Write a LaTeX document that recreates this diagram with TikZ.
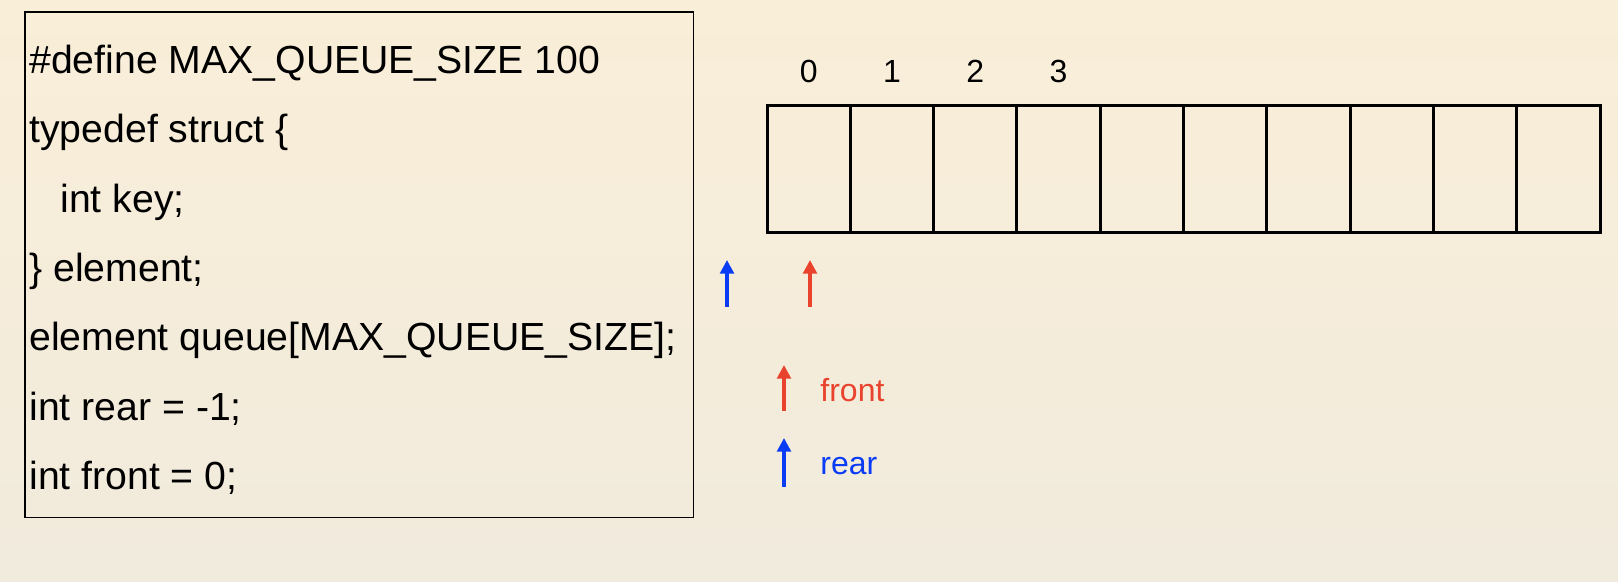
\documentclass[tikz,border=0pt]{standalone}
\usepackage{fontspec}
\setmainfont{Liberation Sans}
\usetikzlibrary{arrows.meta,positioning}
\definecolor{frontred}{RGB}{233,67,45}
\definecolor{rearblue}{RGB}{10,60,245}
\definecolor{bgtop}{RGB}{249,238,216}
\definecolor{bgbot}{RGB}{241,235,221}
\tikzset{
  code/.style={anchor=base west,inner sep=0pt,font=\fontsize{19.6}{21}\selectfont},
  cell/.style={draw,line width=1.5pt,minimum width=41.65pt,minimum height=63.5pt,inner sep=0pt,outer sep=0pt},
  idx/.style={inner sep=0pt,font=\fontsize{16}{18}\selectfont},
  legend/.style={anchor=base west,inner sep=0pt,font=\fontsize{16}{18}\selectfont},
  ptr/.style={line width=2.3pt,-{Triangle[width=6.8pt,length=6.8pt]}},
}
\begin{document}
\begin{tikzpicture}[x=0.5pt,y=-0.5pt]
\shade[top color=bgtop,bottom color=bgbot] (0,0) rectangle (1618,582);
\useasboundingbox (0,0) rectangle (1618,582);
% declarations
\node[draw,line width=0.75pt,minimum width=334.25pt,minimum height=252.75pt,inner sep=0pt,anchor=north west] (codebox) at (24,11.5) {};
\node[code] (def) at (29,73.3) {\#define MAX\_QUEUE\_SIZE 100};
\node[code] (tdef) at (29,142.7) {typedef struct \{};
\node[code] (key) at (60,212.1) {int key;};
\node[code] (elem) at (29,281.5) {\} element;};
\node[code] (queue) at (29,350.9) {element queue[MAX\_QUEUE\_SIZE];};
\node[code] (rear) at (29,420.3) {int rear = -1;};
\node[code] (front) at (29,489.7) {int front = 0;};
% the array
\foreach \i in {0,...,9}
  \node[cell] (c\i) at ({808.65+83.3*\i},169.2) {};
\foreach \i in {0,...,3}
  \node[idx] (n\i) at ({808.65+83.3*\i},71.7) {\i};
% pointers
\coordinate (rb) at (727,307);
\coordinate (rt) at (727,260);
\coordinate (fb) at (810,307);
\coordinate (ft) at (810,260);
\draw[ptr,rearblue] (rb) -- (rt);
\draw[ptr,frontred] (fb) -- (ft);
% legend
\coordinate (lfb) at (784,411);
\coordinate (lft) at (784,365);
\coordinate (lrb) at (784,487);
\coordinate (lrt) at (784,438);
\draw[ptr,frontred] (lfb) -- (lft);
\draw[ptr,rearblue] (lrb) -- (lrt);
\node[legend,text=frontred] (lfront) at (820,401.7) {front};
\node[legend,text=rearblue] (lrear) at (820,475) {rear};
\end{tikzpicture}
\end{document}
